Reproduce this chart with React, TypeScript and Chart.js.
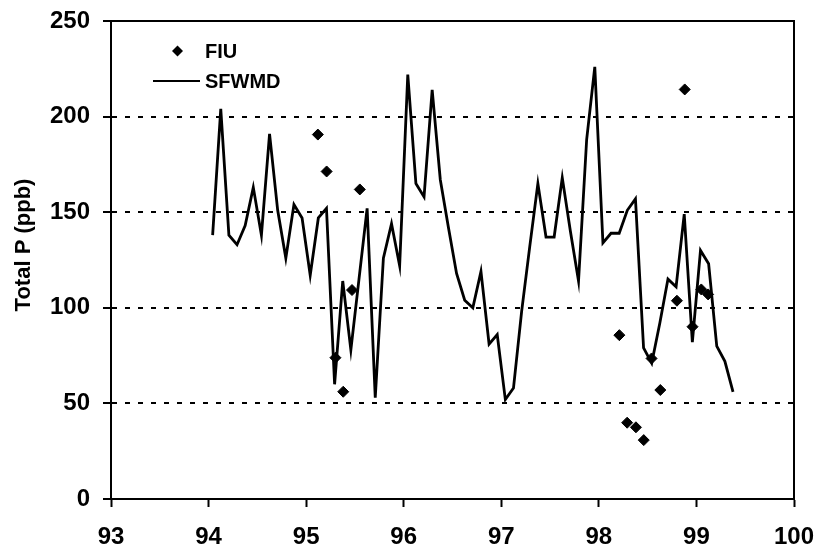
import React, { useEffect, useRef } from "react";
import { Chart, registerables } from "chart.js";

Chart.register(...registerables);

// SFWMD monthly series, starting January 1994
const sfwmdStartYear = 94;
const sfwmdValues = [
  138, 204, 138, 133, 143, 163, 138, 191, 151, 126, 154, 147,
  117, 147, 152, 60, 114, 78, 115, 152, 53, 126, 144, 122,
  222, 165, 158, 214, 167, 142, 118, 104, 100, 119, 81, 86,
  52, 58, 98, 132, 165, 137, 137, 168, 140, 114, 188, 226,
  134, 139, 139, 151, 157, 79, 71, 92, 115, 111, 149, 82,
  130, 123, 80, 72, 56,
];

// FIU samples
const fiuX = [
  95.12, 95.21, 95.3, 95.38, 95.47, 95.55,
  98.21, 98.29, 98.38, 98.46, 98.54, 98.63, 98.8, 98.88, 98.96, 99.05, 99.12,
];
const fiuY = [
  190.6, 171.3, 73.9, 56.1, 109.3, 161.9,
  85.7, 39.9, 37.5, 30.8, 73.5, 57, 103.7, 214.2, 90.1, 109.6, 107,
];

const xTicks = [93, 94, 95, 96, 97, 98, 99, 100];
const yTicks = [0, 50, 100, 150, 200, 250];
const yTitle = "Total P (ppb)";
const legendLabels = ["FIU", "SFWMD"];

const FONT = "'Liberation Sans', Arial, Helvetica, sans-serif";

export default function App() {
  const ref = useRef<HTMLCanvasElement | null>(null);

  useEffect(() => {
    const canvas = ref.current;
    if (!canvas) return;

    const sfwmdData = sfwmdValues.map((v, i) => ({
      x: sfwmdStartYear + (i + 0.5) / 12,
      y: v,
    }));
    const fiuData = fiuX.map((x, i) => ({ x, y: fiuY[i] }));

    const framePlugin = {
      id: "frameAndText",
      afterDatasetsDraw(chart: any) {
        const { ctx, chartArea } = chart;
        const { left, right, top, bottom } = chartArea;
        ctx.save();
        ctx.strokeStyle = "#000";
        ctx.lineWidth = 2;
        ctx.beginPath();
        ctx.moveTo(left, top);
        ctx.lineTo(right, top);
        ctx.lineTo(right, bottom);
        ctx.stroke();

        // legend
        ctx.fillStyle = "#000";
        ctx.font = `bold 20px ${FONT}`;
        ctx.textAlign = "left";
        ctx.textBaseline = "middle";
        const lx = left + 42;
        const ly1 = top + 30;
        const ly2 = top + 60;
        const cx = lx + 24.5;
        const r = 5.5;
        ctx.beginPath();
        ctx.moveTo(cx, ly1 - r);
        ctx.lineTo(cx + r, ly1);
        ctx.lineTo(cx, ly1 + r);
        ctx.lineTo(cx - r, ly1);
        ctx.closePath();
        ctx.fill();
        ctx.fillText(legendLabels[0], lx + 52, ly1 + 1);
        ctx.beginPath();
        ctx.moveTo(lx, ly2);
        ctx.lineTo(lx + 47, ly2);
        ctx.stroke();
        ctx.fillText(legendLabels[1], lx + 52, ly2 + 1);

        // y axis title
        ctx.save();
        ctx.translate(24, 245);
        ctx.rotate(-Math.PI / 2);
        ctx.textAlign = "center";
        ctx.font = `bold 22px ${FONT}`;
        ctx.fillText(yTitle, 0, 0);
        ctx.restore();
        ctx.restore();
      },
    };

    const chart = new Chart(canvas, {
      type: "scatter",
      data: {
        datasets: [
          {
            label: "SFWMD",
            data: sfwmdData,
            showLine: true,
            borderColor: "#000",
            borderWidth: 2.8,
            pointRadius: 0,
            tension: 0,
            order: 2,
          },
          {
            label: "FIU",
            data: fiuData,
            showLine: false,
            pointStyle: "rectRot",
            pointRadius: 5.5,
            backgroundColor: "#000",
            borderColor: "#000",
            borderWidth: 1,
            order: 1,
          },
        ],
      },
      options: {
        animation: false,
        responsive: false,
        devicePixelRatio: 1,
        layout: { padding: { top: 21, right: 26, left: 0, bottom: 0 } },
        plugins: {
          legend: { display: false },
          tooltip: { enabled: false },
        },
        scales: {
          x: {
            type: "linear",
            min: 93,
            max: 100,
            afterFit: (s: any) => {
              s.height = 51;
              s.paddingLeft = 0;
              s.paddingRight = 0;
            },
            afterBuildTicks: (s: any) => {
              s.ticks = xTicks.map((v) => ({ value: v }));
            },
            ticks: {
              color: "#000",
              padding: 16,
              font: { family: FONT, size: 24, weight: "bold" },
              callback: (v: any) => String(v),
              maxRotation: 0,
              autoSkip: false,
            },
            grid: {
              drawOnChartArea: false,
              drawTicks: true,
              tickLength: 8,
              tickWidth: 2,
              tickColor: "#000",
            },
            border: { display: true, color: "#000", width: 2 },
          },
          y: {
            type: "linear",
            min: 0,
            max: 250,
            afterFit: (s: any) => {
              s.width = 111;
              s.paddingTop = 0;
              s.paddingBottom = 0;
            },
            afterBuildTicks: (s: any) => {
              s.ticks = yTicks.map((v) => ({ value: v }));
            },
            ticks: {
              color: "#000",
              padding: 13,
              font: { family: FONT, size: 24, weight: "bold" },
              callback: (v: any) => String(v),
            },
            grid: {
              drawOnChartArea: true,
              drawTicks: true,
              tickLength: 8,
              tickWidth: 2,
              tickColor: "#000",
              lineWidth: 2,
              color: (c: any) =>
                c.tick && c.tick.value > 0 && c.tick.value < 250
                  ? "#000"
                  : "rgba(0,0,0,0)",
            },
            border: { display: true, color: "#000", width: 2, dash: [5, 8] },
          },
        },
      },
      plugins: [framePlugin],
    } as any);

    return () => chart.destroy();
  }, []);

  return (
    <div style={{ position: "absolute", left: 0, top: 0, width: 820, height: 550, background: "#fff" }}>
      <canvas ref={ref} width={820} height={550} style={{ width: 820, height: 550, display: "block" }} />
    </div>
  );
}
